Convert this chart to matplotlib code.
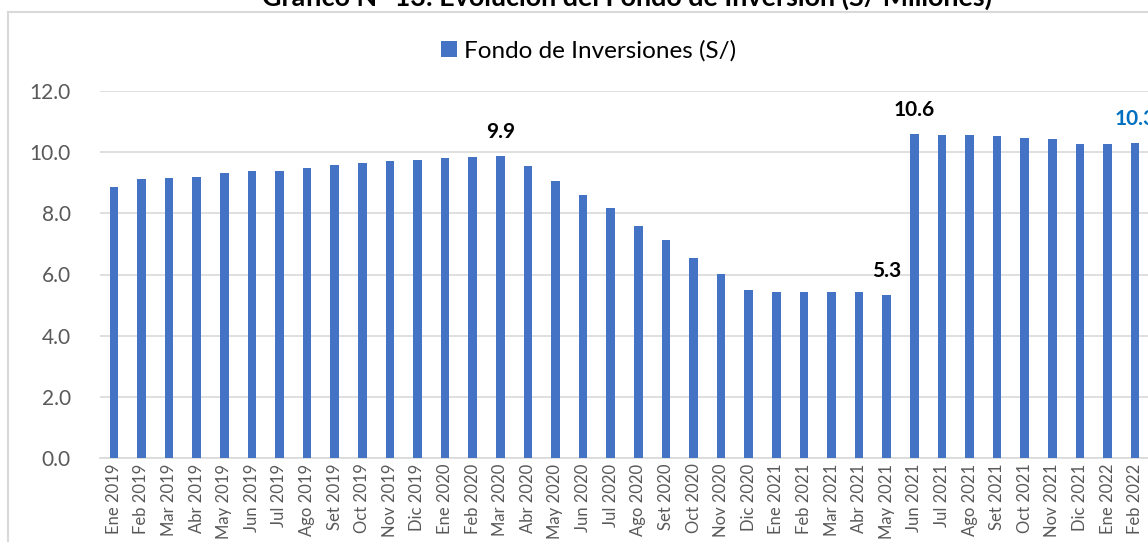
import matplotlib
matplotlib.use("Agg")
import matplotlib.pyplot as plt
from matplotlib.lines import Line2D
from matplotlib.patches import Patch

plt.rcParams['font.family'] = ['Lato', 'DejaVu Sans']

months = ["Ene 2019", "Feb 2019", "Mar 2019", "Abr 2019", "May 2019", "Jun 2019",
          "Jul 2019", "Ago 2019", "Set 2019", "Oct 2019", "Nov 2019", "Dic 2019",
          "Ene 2020", "Feb 2020", "Mar 2020", "Abr 2020", "May 2020", "Jun 2020",
          "Jul 2020", "Ago 2020", "Set 2020", "Oct 2020", "Nov 2020", "Dic 2020",
          "Ene 2021", "Feb 2021", "Mar 2021", "Abr 2021", "May 2021", "Jun 2021",
          "Jul 2021", "Ago 2021", "Set 2021", "Oct 2021", "Nov 2021", "Dic 2021",
          "Ene 2022", "Feb 2022"]
fondo = [8.85, 9.11, 9.14, 9.18, 9.33, 9.37, 9.40, 9.49, 9.57, 9.64, 9.70, 9.76,
         9.81, 9.85, 9.86, 9.56, 9.07, 8.61, 8.19, 7.59, 7.13, 6.53, 6.01, 5.48,
         5.42, 5.42, 5.42, 5.42, 5.32, 10.58, 10.55, 10.55, 10.53, 10.45, 10.42, 10.28,
         10.28, 10.29]
yticks = [0, 2, 4, 6, 8, 10, 12]
highlight_idx = [14, 28, 29]
last_idx = 37

title = "Gráfico N° 13: Evolución del Fondo de Inversión (S/ Millones)"
series_name = "Fondo de Inversiones (S/)"
bar_color = "#4472C4"
grid_color = "#D9D9D9"
tick_color = "#595959"

W, H = 1148, 542
fig = plt.figure(figsize=(W / 100, H / 100), dpi=100)
left, right, top, bottom = 100, 1149, 91, 458
ax = fig.add_axes([left / W, 1 - bottom / H, (right - left) / W, (bottom - top) / H])

x = list(range(len(months)))
ax.bar(x, fondo, width=0.31, color=bar_color, zorder=3)
ax.set_xlim(-0.5, len(months) - 0.5)
ax.set_ylim(0, 12)
ax.set_yticks(yticks)
ax.set_yticklabels([f"{v:.1f}" for v in yticks], fontsize=15, color=tick_color)
ax.set_xticks(x)
ax.set_xticklabels(months, rotation=90, fontsize=12, color=tick_color)
ax.tick_params(axis='y', length=0, pad=21)
ax.tick_params(axis='x', length=0, pad=4)
ax.grid(axis='y', color=grid_color, linewidth=1.2, zorder=0)
for s in ['top', 'right', 'left']:
    ax.spines[s].set_visible(False)
ax.spines['bottom'].set_color(grid_color)
ax.spines['bottom'].set_linewidth(1.2)

for i in highlight_idx:
    ax.annotate(f"{fondo[i]:.1f}", xy=(i, fondo[i]), xytext=(0, 13.5),
                textcoords='offset points', ha='center', va='baseline',
                fontsize=15, fontweight='bold', color='black', annotation_clip=False)
ax.annotate(f"{fondo[last_idx]:.1f}", xy=(last_idx, fondo[last_idx]), xytext=(0, 13.5),
            textcoords='offset points', ha='center', va='baseline',
            fontsize=15, fontweight='bold', color='#0070C0', annotation_clip=False)

fig.legend(handles=[Patch(facecolor=bar_color, label=series_name)],
           loc='center', bbox_to_anchor=(588.5 / W, 1 - 51 / H), frameon=False,
           fontsize=17.5, handlelength=0.65, handleheight=0.65, handletextpad=0.3)

# chart border
fig.add_artist(Line2D([8 / W, 1.0], [1 - 12 / H, 1 - 12 / H], transform=fig.transFigure,
                      color=grid_color, linewidth=1.5))
fig.add_artist(Line2D([8 / W, 8 / W], [0, 1 - 12 / H], transform=fig.transFigure,
                      color=grid_color, linewidth=1.5))

fig.text(627 / W, 1 - 6 / H, title, ha='center', va='baseline', fontsize=19.4,
         fontweight='bold', color='black')

fig.savefig("out.png", dpi=100)
